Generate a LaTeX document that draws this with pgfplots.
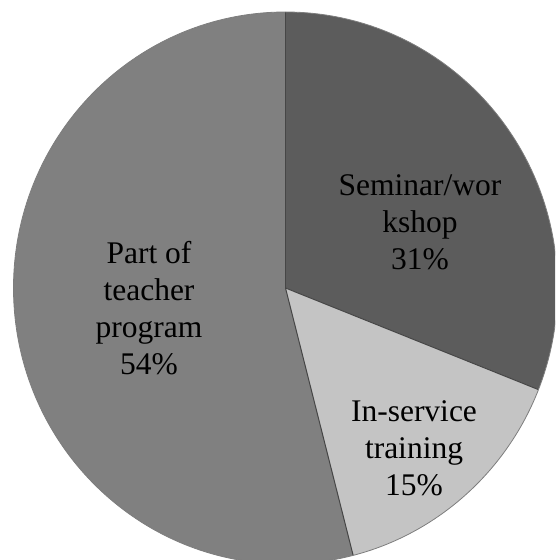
\documentclass[border=0pt]{standalone}
\usepackage{pgfplots}
\pgfplotsset{compat=1.18}
\usepackage{fontspec}
\setmainfont{Liberation Serif}
\definecolor{cSem}{RGB}{92,92,92}
\definecolor{cIns}{RGB}{196,196,196}
\definecolor{cPart}{RGB}{128,128,128}
\definecolor{cEdge}{RGB}{70,70,70}
\begin{document}
\begin{tikzpicture}
\begin{axis}[name=ax, scale only axis, width=555pt, height=560pt,
  xmin=0, xmax=555, ymin=0, ymax=560, hide axis, clip=true]
% values (percent), drawn clockwise from 12 o'clock
\def\XR{272}\def\YR{276}
\pgfmathsetmacro{\aA}{90}
\pgfmathsetmacro{\aB}{90-31*3.6}
\pgfmathsetmacro{\aC}{\aB-15*3.6}
\pgfmathsetmacro{\aD}{\aC-54*3.6}
\def\slice#1#2#3{\fill[#3] (axis cs:285.5,272) -- ++({\XR*cos(#1)*1pt},{\YR*sin(#1)*1pt}) arc[start angle=#1, end angle=#2, x radius=\XR pt, y radius=\YR pt] -- cycle;}
\slice{\aA}{\aB}{cSem}
\slice{\aB}{\aC}{cIns}
\slice{\aC}{\aD}{cPart}
\draw[cEdge, line width=1pt] (axis cs:285.5,272) -- ++({\XR*cos(\aA)*1pt},{\YR*sin(\aA)*1pt});
\draw[cEdge, line width=1pt] (axis cs:285.5,272) -- ++({\XR*cos(\aB)*1pt},{\YR*sin(\aB)*1pt});
\draw[cEdge, line width=1pt] (axis cs:285.5,272) -- ++({\XR*cos(\aC)*1pt},{\YR*sin(\aC)*1pt});
\draw[cEdge!70, line width=0.8pt] (axis cs:285.5,272) ++({\XR*cos(\aA)*1pt},{\YR*sin(\aA)*1pt}) arc[start angle=\aA, end angle=-270, x radius=\XR pt, y radius=\YR pt];
\node[align=center, font=\fontsize{31.5}{36.8}\selectfont, inner sep=0pt] at (axis cs:420,338) {Seminar/wor\\kshop\\31\%};
\node[align=center, font=\fontsize{31.5}{36.8}\selectfont, inner sep=0pt] at (axis cs:414,112) {In-service\\training\\15\%};
\node[align=center, font=\fontsize{31.5}{36.8}\selectfont, inner sep=0pt] at (axis cs:149,252) {Part of\\teacher\\program\\54\%};
\end{axis}
\path (ax.south west) rectangle (ax.north east);
\end{tikzpicture}
\end{document}
